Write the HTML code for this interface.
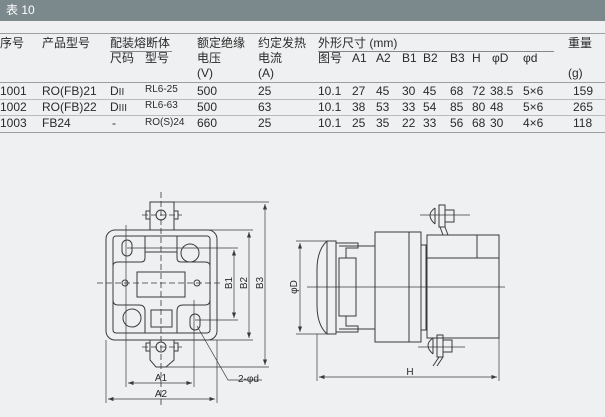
<!DOCTYPE html>
<html><head><meta charset="utf-8"><style>
body{margin:0;width:605px;height:417px;background:#eff0f1;overflow:hidden;position:relative;font-family:"Liberation Sans","Noto Sans CJK SC",sans-serif;color:#2a2a2a}
.bar{position:absolute;left:0;top:0;width:605px;height:21px;background:#7c898c;color:#fff;font-size:12px;line-height:21px;padding-left:6px;box-sizing:border-box}
.t{position:absolute;font-size:12px;line-height:14px;white-space:nowrap}
.s{font-size:10px}
.hl{position:absolute;left:0;width:605px;height:1px;background:#9a9fa2}
</style></head><body>
<div class="bar">表 10</div>
<div class="hl" style="top:33px"></div>
<div class="hl" style="top:82px"></div>
<div class="hl" style="top:99px;background:#b8bcbe"></div>
<div class="hl" style="top:115px;background:#b8bcbe"></div>
<div class="hl" style="top:132px"></div>
<div style="position:absolute;left:110px;top:51px;width:62px;height:1px;background:#888"></div>
<div style="position:absolute;left:318px;top:51px;width:236px;height:1px;background:#888"></div>

<div class="t" style="left:0;top:36px">序号</div>
<div class="t" style="left:42px;top:36px">产品型号</div>
<div class="t" style="left:110px;top:36px">配装熔断体</div>
<div class="t" style="left:110px;top:51px">尺码</div>
<div class="t" style="left:145px;top:51px">型号</div>
<div class="t" style="left:197px;top:36px">额定绝缘</div>
<div class="t" style="left:197px;top:51px">电压</div>
<div class="t" style="left:197px;top:66px">(V)</div>
<div class="t" style="left:258px;top:36px">约定发热</div>
<div class="t" style="left:258px;top:51px">电流</div>
<div class="t" style="left:258px;top:66px">(A)</div>
<div class="t" style="left:318px;top:36px">外形尺寸 (mm)</div>
<div class="t" style="left:318px;top:51px">图号</div>
<div class="t" style="left:352px;top:51px">A1</div>
<div class="t" style="left:376px;top:51px">A2</div>
<div class="t" style="left:402px;top:51px">B1</div>
<div class="t" style="left:423px;top:51px">B2</div>
<div class="t" style="left:450px;top:51px">B3</div>
<div class="t" style="left:472px;top:51px">H</div>
<div class="t" style="left:492px;top:51px">φD</div>
<div class="t" style="left:523px;top:51px">φd</div>
<div class="t" style="left:568px;top:36px">重量</div>
<div class="t" style="left:568px;top:66px">(g)</div>

<div class="t" style="left:0;top:84px">1001</div><div class="t" style="left:42px;top:84px">RO(FB)21</div><div class="t" style="left:110px;top:84px">D<span class="s">II</span></div><div class="t s" style="left:145px;top:83px">RL6-25</div><div class="t" style="left:197px;top:84px">500</div><div class="t" style="left:258px;top:84px">25</div><div class="t" style="left:318px;top:84px">10.1</div><div class="t" style="left:352px;top:84px">27</div><div class="t" style="left:376px;top:84px">45</div><div class="t" style="left:402px;top:84px">30</div><div class="t" style="left:423px;top:84px">45</div><div class="t" style="left:450px;top:84px">68</div><div class="t" style="left:472px;top:84px">72</div><div class="t" style="left:490px;top:84px">38.5</div><div class="t" style="left:523px;top:84px">5×6</div><div class="t" style="left:573px;top:84px">159</div>

<div class="t" style="left:0;top:100px">1002</div><div class="t" style="left:42px;top:100px">RO(FB)22</div><div class="t" style="left:110px;top:100px">D<span class="s">III</span></div><div class="t s" style="left:145px;top:99px">RL6-63</div><div class="t" style="left:197px;top:100px">500</div><div class="t" style="left:258px;top:100px">63</div><div class="t" style="left:318px;top:100px">10.1</div><div class="t" style="left:352px;top:100px">38</div><div class="t" style="left:376px;top:100px">53</div><div class="t" style="left:402px;top:100px">33</div><div class="t" style="left:423px;top:100px">54</div><div class="t" style="left:450px;top:100px">85</div><div class="t" style="left:472px;top:100px">80</div><div class="t" style="left:490px;top:100px">48</div><div class="t" style="left:523px;top:100px">5×6</div><div class="t" style="left:573px;top:100px">265</div>

<div class="t" style="left:0;top:116px">1003</div><div class="t" style="left:42px;top:116px">FB24</div><div class="t" style="left:112px;top:116px">-</div><div class="t s" style="left:145px;top:116px">RO(S)24</div><div class="t" style="left:197px;top:116px">660</div><div class="t" style="left:258px;top:116px">25</div><div class="t" style="left:318px;top:116px">10.1</div><div class="t" style="left:352px;top:116px">25</div><div class="t" style="left:376px;top:116px">35</div><div class="t" style="left:402px;top:116px">22</div><div class="t" style="left:423px;top:116px">33</div><div class="t" style="left:450px;top:116px">56</div><div class="t" style="left:472px;top:116px">68</div><div class="t" style="left:490px;top:116px">30</div><div class="t" style="left:523px;top:116px">4×6</div><div class="t" style="left:573px;top:116px">118</div>

<svg width="605" height="417" style="position:absolute;left:0;top:0" fill="none" stroke="#3a3a3a" stroke-width="1">
<defs><marker id="a" markerWidth="8" markerHeight="6" refX="8" refY="3" orient="auto-start-reverse"><path d="M0,0 L8,3 L0,6 z" fill="#3a3a3a" stroke="none"/></marker></defs>
<!-- left view -->
<rect x="150" y="202" width="24" height="28"/>
<circle cx="161" cy="215" r="5"/>
<rect x="146" y="211" width="4" height="8"/><rect x="174" y="211" width="4" height="8"/>
<rect x="106" y="230" width="111" height="110" rx="9"/>
<rect x="113" y="236" width="97" height="97" rx="3"/>
<path d="M145 236 V258 Q145 262 141 262 H118 Q113 262 113 266"/>
<path d="M177 236 V258 Q177 262 181 262 H205 Q210 262 210 266"/>
<path d="M145 252 H177"/>
<path d="M145 333 V311 Q145 305 139 305 H118 Q113 305 113 300"/>
<path d="M177 333 V311 Q177 305 183 305 H205 Q210 305 210 300"/>
<rect x="137" y="272" width="48" height="25"/>
<rect x="151" y="310" width="21" height="17"/>
<rect x="122" y="240" width="10" height="16" rx="5"/>
<rect x="190" y="314" width="10" height="16" rx="5"/>
<circle cx="190" cy="253" r="9"/><circle cx="132" cy="318" r="9"/>
<circle cx="125" cy="283" r="3"/><circle cx="197" cy="283" r="3"/>
<path d="M150 340 V360 L156 367 H166 L174 360 V340"/>
<circle cx="161" cy="347" r="5"/>
<rect x="146" y="343" width="4" height="8"/><rect x="174" y="343" width="4" height="8"/>
<g stroke-dasharray="6,3" stroke-width="0.8">
<path d="M161 192 V405"/><path d="M97 283 H222"/>
<path d="M142 215 H182"/><path d="M142 347 H182"/>
</g>
<g stroke-width="0.7">
<path d="M174 202 H269"/><path d="M166 367 H269"/><path d="M210 230 H253"/><path d="M210 340 H253"/>
<path d="M127 248 H238"/><path d="M195 320 H238"/>
<path d="M126 225 V387"/><path d="M194 300 V387"/><path d="M106 340 V403"/><path d="M217 340 V403"/>
<path d="M265 204 V365" marker-start="url(#a)" marker-end="url(#a)"/>
<path d="M249 232 V338" marker-start="url(#a)" marker-end="url(#a)"/>
<path d="M234 250 V318" marker-start="url(#a)" marker-end="url(#a)"/>
<path d="M128 383 H192" marker-start="url(#a)" marker-end="url(#a)"/>
<path d="M108 399 H215" marker-start="url(#a)" marker-end="url(#a)"/>
<path d="M197 326 L228 380 H262"/>
</g>
<!-- right view -->
<path d="M336 241 H327 Q317 250 317 270 V305 Q317 325 327 334 H336 Z"/>
<path d="M327 241 V334"/>
<path d="M336 243 H358 V248 H346 V258 H339 V316 H346 V326 H358 V332 H336"/>
<path d="M346 258 H356 V316 H346"/>
<path d="M339 246 H375 M339 329 H375"/>
<rect x="375" y="232" width="46" height="110"/>
<path d="M409 232 V342"/>
<rect x="421" y="245" width="5" height="85"/>
<path d="M427 235 H499 V338 H427 Z"/>
<path d="M427 258 H499 M477 235 V258"/>
<path d="M307 287 H505" stroke-width="0.7"/>
<g>
<path d="M435 208 Q425 215 435 224"/><path d="M435 208 V224"/>
<rect x="439" y="205" width="6" height="22"/><rect x="445" y="210" width="9" height="12"/>
<path d="M445 227 L448 235"/><path d="M440 227 L443 235"/>
<path d="M420 215 H470" stroke-width="0.7"/>
<path d="M433 338 Q423 345 433 354"/><path d="M433 338 V354"/>
<rect x="437" y="335" width="6" height="22"/><rect x="443" y="340" width="9" height="12"/>
<path d="M439 357 L433 366 M443 357 L437 366"/>
<path d="M418 347 H465" stroke-width="0.7"/>
</g>
<g stroke-width="0.7">
<path d="M296 241 H330"/><path d="M296 334 H330"/>
<path d="M300 243 V332" marker-start="url(#a)" marker-end="url(#a)"/>
<path d="M317 334 V381"/><path d="M499 338 V381"/>
<path d="M319 377 H497" marker-start="url(#a)" marker-end="url(#a)"/>
</g>
<g fill="#2a2a2a" stroke="none" font-family="Liberation Sans, sans-serif" font-size="10">
<text x="161" y="381" text-anchor="middle">A1</text>
<text x="161" y="397" text-anchor="middle">A2</text>
<text x="238" y="382">2-φd</text>
<text transform="translate(232,283) rotate(-90)" text-anchor="middle">B1</text>
<text transform="translate(247,283) rotate(-90)" text-anchor="middle">B2</text>
<text transform="translate(263,283) rotate(-90)" text-anchor="middle">B3</text>
<text transform="translate(297,287) rotate(-90)" text-anchor="middle">φD</text>
<text x="410" y="375" text-anchor="middle">H</text>
</g>
</svg>
</body></html>
